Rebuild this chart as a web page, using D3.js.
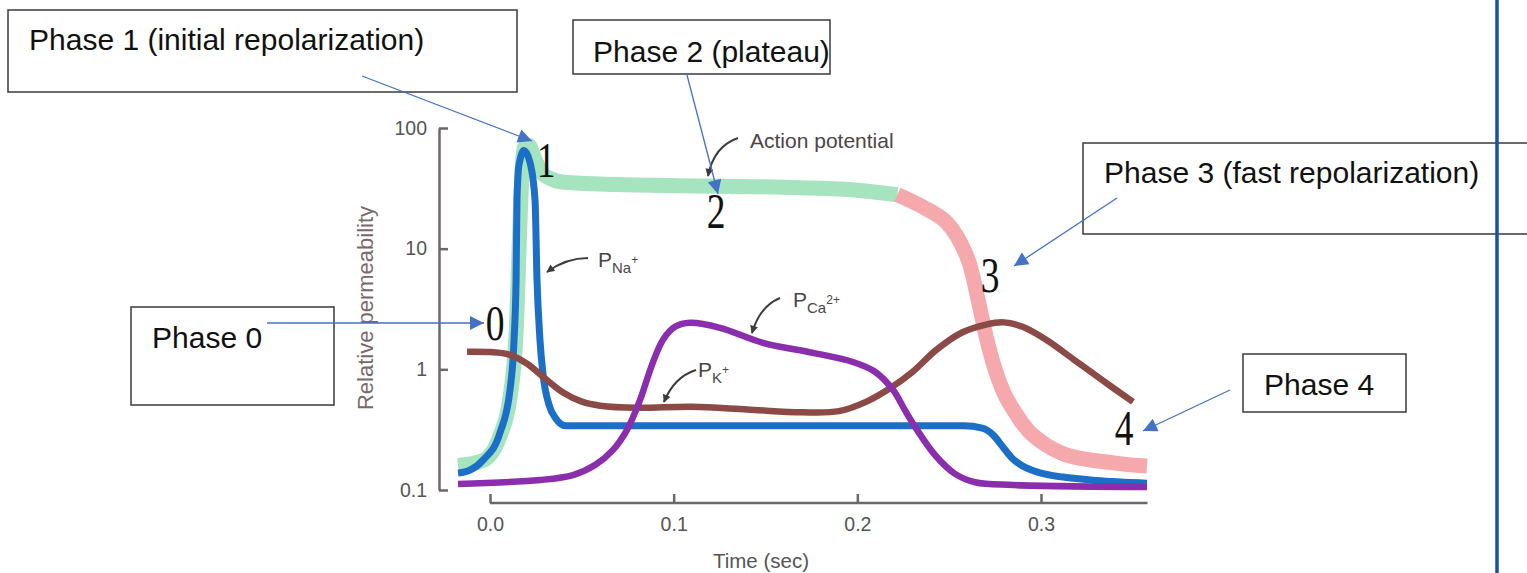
<!DOCTYPE html>
<html>
<head>
<meta charset="utf-8">
<script src="https://cdn.jsdelivr.net/npm/d3@7/dist/d3.min.js"></script>
<style>
  body { margin: 0; background: #fff; }
  svg { display: block; }
</style>
</head>
<body>
<div id="chart"></div>
<script>
// time (sec) / relative permeability
const apPlateauTime  = [-0.0174, -0.004, 0.005, 0.011, 0.0145, 0.0165, 0.0185, 0.021, 0.0245, 0.028, 0.033, 0.04, 0.07, 0.12, 0.169, 0.2, 0.2218];
const apPlateauValue = [0.16, 0.175, 0.27, 0.6, 2.5, 20, 68, 72, 55, 43, 38, 35.5, 34, 33, 32, 30.5, 28];

const apFallTime  = [0.2218, 0.236, 0.2488, 0.2597, 0.2657, 0.27, 0.275, 0.2804, 0.2859, 0.294, 0.312, 0.3392, 0.3577];
const apFallValue = [28, 22, 16.4, 8.6, 3.8, 1.9, 1.0, 0.61, 0.44, 0.30, 0.20, 0.168, 0.158];

const naTime  = [-0.0174, -0.0109, -0.0038, 0.0054, 0.0109, 0.0131, 0.0142, 0.0147, 0.0158, 0.0185, 0.0218, 0.0245, 0.0256, 0.0272, 0.0289, 0.0321, 0.0359, 0.0414, 0.1, 0.2, 0.258, 0.268, 0.274, 0.279, 0.284, 0.29, 0.3, 0.312, 0.33, 0.3577];
const naValue = [0.138, 0.146, 0.177, 0.297, 0.676, 1.76, 5.5, 25.5, 49.8, 65, 51.7, 25.5, 5.5, 1.76, 0.9, 0.51, 0.39, 0.34, 0.34, 0.34, 0.34, 0.325, 0.285, 0.23, 0.185, 0.158, 0.138, 0.128, 0.12, 0.114];

const kTime  = [-0.0125, 0, 0.01, 0.02, 0.03, 0.04, 0.05, 0.06, 0.08, 0.11, 0.14, 0.17, 0.19, 0.205, 0.218, 0.23, 0.243, 0.257, 0.27, 0.28, 0.29, 0.303, 0.318, 0.333, 0.3501];
const kValue = [1.40, 1.39, 1.33, 1.12, 0.84, 0.64, 0.54, 0.50, 0.48, 0.49, 0.465, 0.44, 0.45, 0.54, 0.70, 0.95, 1.45, 2.02, 2.35, 2.45, 2.25, 1.75, 1.2, 0.82, 0.537];

const caTime  = [-0.0174, 0.0272, 0.0452, 0.0572, 0.067, 0.0746, 0.0817, 0.0882, 0.0942, 0.1007, 0.1089, 0.1252, 0.1486, 0.1759, 0.1976, 0.2096, 0.2194, 0.2259, 0.2325, 0.2423, 0.2532, 0.2641, 0.2848, 0.3577];
const caValue = [0.112, 0.121, 0.133, 0.161, 0.215, 0.315, 0.558, 1.09, 1.76, 2.25, 2.43, 2.21, 1.66, 1.37, 1.15, 0.955, 0.676, 0.459, 0.315, 0.195, 0.136, 0.116, 0.110, 0.106];

const xTicks = [0, 0.1, 0.2, 0.3];
const yTicks = [0.1, 1, 10, 100];
const yTickLabels = ['0.1', '1', '10', '100'];
const xAxisEnd = 0.358;

function zip(ts, vs) {
  return ts.map((t, i) => ({ t: t, v: vs[i] }));
}

const svg = d3.select('#chart')
  .append('svg')
  .attr('width', 1527)
  .attr('height', 573);

const x = d3.scaleLinear().domain([0, 0.3]).range([490, 1041]);
const y = d3.scaleLog().domain([0.1, 100]).range([490, 128]);

const line = d3.line()
  .x(d => x(d.t))
  .y(d => y(d.v))
  .curve(d3.curveMonotoneX);
const smoothLine = d3.line()
  .x(d => x(d.t))
  .y(d => y(d.v))
  .curve(d3.curveCatmullRom.alpha(0.5));

// axes
const axisColor = '#6e6767';
svg.append('g')
  .attr('transform', 'translate(439,0)')
  .call(d3.axisLeft(y).tickValues(yTicks)
    .tickFormat((d, i) => yTickLabels[i])
    .tickSizeInner(-9).tickSizeOuter(0).tickPadding(12));

const xAxis = svg.append('g')
  .attr('transform', 'translate(0,503)')
  .call(d3.axisBottom(x).tickValues(xTicks)
    .tickFormat(d3.format('.1f'))
    .tickSizeInner(-9).tickSizeOuter(0).tickPadding(14));
xAxis.select('.domain').remove();
xAxis.append('line')
  .attr('x1', x(0)).attr('x2', x(xAxisEnd))
  .attr('stroke', axisColor).attr('stroke-width', 2.5);

svg.selectAll('.domain, .tick line')
  .attr('stroke', axisColor)
  .attr('stroke-width', 2.5);
svg.selectAll('.tick text')
  .attr('fill', '#555')
  .style('font-family', '"Liberation Sans", Arial, sans-serif')
  .style('font-size', '19.5px');

svg.append('text')
  .attr('transform', 'translate(373,308) rotate(-90)')
  .attr('text-anchor', 'middle')
  .attr('fill', '#7a6868')
  .style('font-family', '"Liberation Sans", Arial, sans-serif')
  .style('font-size', '22px')
  .text('Relative permeability');

svg.append('text')
  .attr('x', 761).attr('y', 568)
  .attr('text-anchor', 'middle')
  .attr('fill', '#555')
  .style('font-family', '"Liberation Sans", Arial, sans-serif')
  .style('font-size', '20.5px')
  .text('Time (sec)');

// curves
svg.append('path').datum(zip(apPlateauTime, apPlateauValue))
  .attr('d', line).attr('fill', 'none')
  .attr('stroke', '#a6e3bf').attr('stroke-width', 15);
svg.append('path').datum(zip(apFallTime, apFallValue))
  .attr('d', smoothLine).attr('fill', 'none')
  .attr('stroke', '#f5a9ad').attr('stroke-width', 15);

svg.append('path').datum(zip(naTime, naValue))
  .attr('d', line).attr('fill', 'none')
  .attr('stroke', '#1b6fc6').attr('stroke-width', 7)
  .attr('stroke-linejoin', 'round');
svg.append('path').datum(zip(kTime, kValue))
  .attr('d', smoothLine).attr('fill', 'none')
  .attr('stroke', '#8c4a46').attr('stroke-width', 6.5);
svg.append('path').datum(zip(caTime, caValue))
  .attr('d', smoothLine).attr('fill', 'none')
  .attr('stroke', '#8a2eae').attr('stroke-width', 6.5);

// labels inside the figure
const defs = svg.append('defs');
defs.append('marker')
  .attr('id', 'grayHead')
  .attr('viewBox', '0 0 10 10')
  .attr('refX', 9).attr('refY', 5)
  .attr('markerWidth', 9).attr('markerHeight', 8)
  .attr('markerUnits', 'userSpaceOnUse')
  .attr('orient', 'auto')
  .append('path').attr('d', 'M0,0 L10,5 L0,10 z').attr('fill', '#3f3a3b');
defs.append('marker')
  .attr('id', 'blueHead')
  .attr('viewBox', '0 0 10 10')
  .attr('refX', 10).attr('refY', 5)
  .attr('markerWidth', 17).attr('markerHeight', 14)
  .attr('markerUnits', 'userSpaceOnUse')
  .attr('orient', 'auto')
  .append('path').attr('d', 'M0,0 L10,5 L0,10 z').attr('fill', '#4472c4');

const pointers = [
  'M738,138 Q714,146 708,176',
  'M588,258 Q566,258 547,272',
  'M780,298 Q760,306 752,333',
  'M696,370 Q674,377 664,402'
];
svg.selectAll('.pointer').data(pointers).enter()
  .append('path')
  .attr('d', d => d)
  .attr('fill', 'none')
  .attr('stroke', '#3f3a3b')
  .attr('stroke-width', 2)
  .attr('marker-end', 'url(#grayHead)');

const labelFont = '"Liberation Sans", Arial, sans-serif';
svg.append('text')
  .attr('x', 750).attr('y', 148)
  .attr('fill', '#4d4446')
  .style('font-family', labelFont).style('font-size', '21px')
  .text('Action potential');

function ionLabel(px, py, sub, sup) {
  const t = svg.append('text')
    .attr('x', px).attr('y', py)
    .attr('fill', '#4d4446')
    .style('font-family', labelFont).style('font-size', '21px');
  t.append('tspan').text('P');
  t.append('tspan').attr('dy', 6).style('font-size', '15px').text(sub);
  t.append('tspan').attr('dy', -9).style('font-size', '12px').text(sup);
}
ionLabel(598, 267, 'Na', '+');
ionLabel(793, 307, 'Ca', '2+');
ionLabel(698, 377, 'K', '+');

const phaseNums = [
  { n: '0', cx: 495, by: 340 },
  { n: '1', cx: 546, by: 177 },
  { n: '2', cx: 716, by: 228 },
  { n: '3', cx: 990, by: 292 },
  { n: '4', cx: 1124, by: 445 }
];
phaseNums.forEach(p => {
  svg.append('g')
    .attr('transform', `translate(${p.cx},${p.by}) scale(0.75,1)`)
    .append('text')
    .attr('text-anchor', 'middle')
    .attr('fill', '#111')
    .style('font-family', '"Liberation Serif", "Times New Roman", serif')
    .style('font-size', '50px')
    .text(p.n);
});

// slide overlay: boxes and arrows
const boxes = [
  { x: 8, y: 10, w: 509, h: 82, text: 'Phase 1 (initial repolarization)', tx: 29, ty: 50 },
  { x: 573, y: 20, w: 257, h: 54, text: 'Phase 2 (plateau)', tx: 593, ty: 62 },
  { x: 1083, y: 143, w: 470, h: 91, text: 'Phase 3 (fast repolarization)', tx: 1104, ty: 183 },
  { x: 131, y: 307, w: 203, h: 98, text: 'Phase 0', tx: 152, ty: 348 },
  { x: 1243, y: 354, w: 163, h: 58, text: 'Phase 4', tx: 1264, ty: 395 }
];
boxes.forEach(b => {
  svg.append('rect')
    .attr('x', b.x).attr('y', b.y).attr('width', b.w).attr('height', b.h)
    .attr('fill', 'none').attr('stroke', '#3a3a3a').attr('stroke-width', 1.5);
  svg.append('text')
    .attr('x', b.tx).attr('y', b.ty)
    .attr('fill', '#111')
    .style('font-family', labelFont).style('font-size', '30px')
    .text(b.text);
});

const arrows = [
  [362, 76, 532, 141],
  [687, 75, 718, 194],
  [1117, 198, 1014, 266],
  [267, 323, 484, 323],
  [1230, 390, 1143, 431]
];
svg.selectAll('.callout').data(arrows).enter()
  .append('line')
  .attr('x1', d => d[0]).attr('y1', d => d[1])
  .attr('x2', d => d[2]).attr('y2', d => d[3])
  .attr('stroke', '#4472c4').attr('stroke-width', 1.3)
  .attr('marker-end', 'url(#blueHead)');

svg.append('line')
  .attr('x1', 1497).attr('x2', 1497)
  .attr('y1', 0).attr('y2', 573)
  .attr('stroke', '#1d4ea6').attr('stroke-width', 3.5);
</script>
</body>
</html>
